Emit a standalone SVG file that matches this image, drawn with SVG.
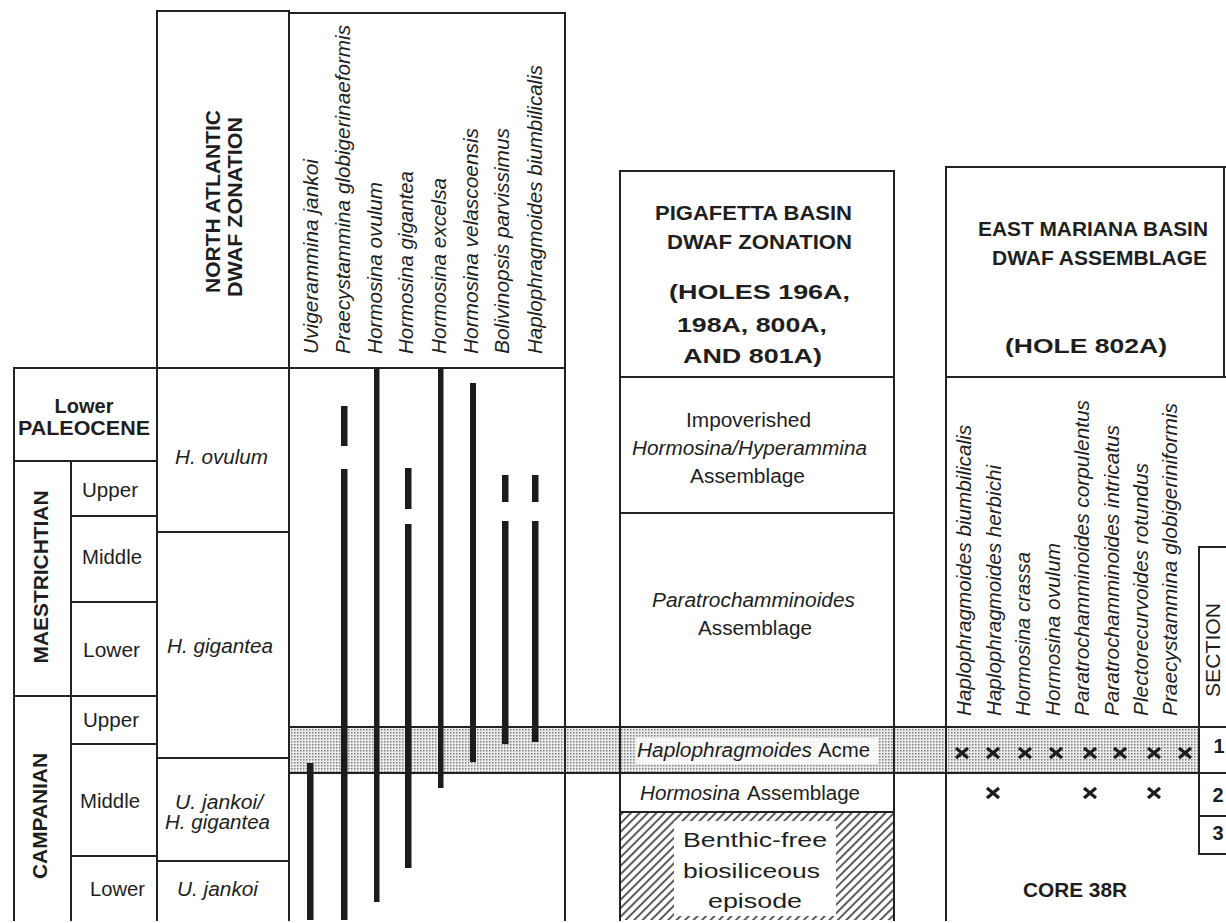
<svg xmlns="http://www.w3.org/2000/svg" width="1226" height="923" viewBox="0 0 1226 923">
<defs>
<style>
.ln{stroke:#222;stroke-width:2;fill:none;stroke-linecap:square}
.t{font-family:"Liberation Sans",Arial,sans-serif;fill:#1e1e1e;font-size:20px}
.b{font-weight:bold}
.i{font-style:italic}
.bar{fill:#1c1c1c}
.x{stroke:#1c1c1c;stroke-width:3.2;fill:none}
</style>
<pattern id="dots" width="3" height="3" patternUnits="userSpaceOnUse">
<rect width="3" height="3" fill="#ebebeb"/>
<rect width="1.5" height="1.5" fill="#808080"/>
</pattern>
<pattern id="hatch" width="6" height="6" patternUnits="userSpaceOnUse" patternTransform="rotate(45)">
<rect width="6" height="6" fill="#fff"/>
<line x1="1" y1="0" x2="1" y2="6" stroke="#333" stroke-width="1.6"/>
</pattern>
<path id="xm" d="M-6,-5 L6,5 M-6,5 L6,-5"/>
</defs>
<rect width="1226" height="923" fill="#fff"/>

<!-- shaded acme band -->
<g id="acme-band">
<rect x="289" y="727" width="910" height="46" fill="url(#dots)"/>
<rect x="636" y="738" width="242" height="26" fill="#fff" opacity="0.85"/>
</g>

<!-- hatched benthic-free -->
<g id="benthic-free">
<rect x="620" y="812" width="274" height="108" fill="url(#hatch)"/>
<rect x="674" y="821" width="162" height="95" fill="#fff"/>
<text class="t" x="683" y="847" font-size="25" textLength="144" lengthAdjust="spacingAndGlyphs">Benthic-free</text>
<text class="t" x="683" y="878" font-size="25" textLength="137" lengthAdjust="spacingAndGlyphs">biosiliceous</text>
<text class="t" x="708" y="908" font-size="25" textLength="94" lengthAdjust="spacingAndGlyphs">episode</text>
</g>

<!-- table lines -->
<g id="connectors">
<path class="ln" d="M157,11 H289 M289,13 H565 M14,368 H565 M14,368 V920 M71,461 V920 M157,11 V920 M289,11 V920 M565,13 V920"/>
<path class="ln" d="M14,461 H157 M71,516 H157 M71,602 H157 M14,696 H157 M71,744 H157 M71,856 H157"/>
<path class="ln" d="M157,532 H289 M157,758 H289 M157,861 H289"/>
<path class="ln" d="M289,727 H1226 M289,773 H1226"/>
<path class="ln" d="M620,171 H894 M620,171 V920 M894,171 V920 M620,377 H894 M620,513 H894 M620,812 H894"/>
<path class="ln" d="M946,167 H1226 M946,167 V920 M946,377 H1226 M1224,167 V377"/>
<path class="ln" d="M1199,547 V854 M1199,547 H1226 M1199,816 H1226 M1199,854 H1226"/>
</g>

<!-- range bars -->
<g id="range-bars">
<rect class="bar" x="307" y="763" width="6.5" height="157"/>
<rect class="bar" x="341" y="406" width="6.5" height="40"/>
<rect class="bar" x="341" y="469" width="6.5" height="451"/>
<rect class="bar" x="374" y="368" width="5.5" height="534"/>
<rect class="bar" x="405" y="468" width="6.5" height="41"/>
<rect class="bar" x="405" y="524" width="6.5" height="344"/>
<rect class="bar" x="438" y="368" width="5.5" height="420"/>
<rect class="bar" x="470" y="383" width="6" height="379"/>
<rect class="bar" x="502" y="475" width="6.5" height="27"/>
<rect class="bar" x="502" y="521" width="6.5" height="223"/>
<rect class="bar" x="532" y="475" width="6.5" height="27"/>
<rect class="bar" x="532" y="521" width="6.5" height="221"/>
</g>

<!-- chronostratigraphy -->
<g id="lower-paleocene">
<text class="t b" x="84" y="413" text-anchor="middle">Lower</text>
<text class="t b" x="18" y="435" textLength="132" lengthAdjust="spacingAndGlyphs">PALEOCENE</text>
</g>
<g id="maestrichtian">
<text class="t b" transform="translate(48,577) rotate(-90)" text-anchor="middle" textLength="173" lengthAdjust="spacingAndGlyphs">MAESTRICHTIAN</text>
<text class="t" x="82" y="497" textLength="56" lengthAdjust="spacingAndGlyphs">Upper</text>
<text class="t" x="82" y="564" textLength="60" lengthAdjust="spacingAndGlyphs">Middle</text>
<text class="t" x="83" y="657" textLength="57" lengthAdjust="spacingAndGlyphs">Lower</text>
</g>
<g id="campanian">
<text class="t b" transform="translate(47,816) rotate(-90)" text-anchor="middle" textLength="126" lengthAdjust="spacingAndGlyphs">CAMPANIAN</text>
<text class="t" x="83" y="727" textLength="56" lengthAdjust="spacingAndGlyphs">Upper</text>
<text class="t" x="80" y="808" textLength="60" lengthAdjust="spacingAndGlyphs">Middle</text>
<text class="t" x="90" y="896" textLength="55" lengthAdjust="spacingAndGlyphs">Lower</text>
</g>

<!-- North Atlantic zonation -->
<g id="north-atlantic">
<text class="t b" transform="translate(220,293) rotate(-90)" font-size="22" textLength="183" lengthAdjust="spacingAndGlyphs">NORTH ATLANTIC</text>
<text class="t b" transform="translate(242,297) rotate(-90)" font-size="22" textLength="180" lengthAdjust="spacingAndGlyphs">DWAF ZONATION</text>
<text class="t i" x="175" y="464" textLength="93" lengthAdjust="spacingAndGlyphs">H. ovulum</text>
<text class="t i" x="167" y="653" textLength="106" lengthAdjust="spacingAndGlyphs">H. gigantea</text>
<text class="t i" x="175" y="809" font-size="18" textLength="88" lengthAdjust="spacingAndGlyphs">U. jankoi/</text>
<text class="t i" x="165" y="829" font-size="18" textLength="105" lengthAdjust="spacingAndGlyphs">H. gigantea</text>
<text class="t i" x="177" y="896" textLength="81" lengthAdjust="spacingAndGlyphs">U. jankoi</text>
</g>

<!-- species names -->
<g id="species-left">
<text class="t i" transform="translate(318,354) rotate(-90)" textLength="195" lengthAdjust="spacingAndGlyphs">Uvigerammina jankoi</text>
<text class="t i" transform="translate(350,354) rotate(-90)" textLength="329" lengthAdjust="spacingAndGlyphs">Praecystammina globigerinaeformis</text>
<text class="t i" transform="translate(382,354) rotate(-90)" textLength="172" lengthAdjust="spacingAndGlyphs">Hormosina ovulum</text>
<text class="t i" transform="translate(413,354) rotate(-90)" textLength="183" lengthAdjust="spacingAndGlyphs">Hormosina gigantea</text>
<text class="t i" transform="translate(446,354) rotate(-90)" textLength="176" lengthAdjust="spacingAndGlyphs">Hormosina excelsa</text>
<text class="t i" transform="translate(478,354) rotate(-90)" textLength="226" lengthAdjust="spacingAndGlyphs">Hormosina velascoensis</text>
<text class="t i" transform="translate(509,354) rotate(-90)" textLength="226" lengthAdjust="spacingAndGlyphs">Bolivinopsis parvissimus</text>
<text class="t i" transform="translate(542,354) rotate(-90)" textLength="289" lengthAdjust="spacingAndGlyphs">Haplophragmoides biumbilicalis</text>
</g>

<!-- Pigafetta Basin -->
<g id="pigafetta">
<text class="t b" x="655" y="220" font-size="18" textLength="197" lengthAdjust="spacingAndGlyphs">PIGAFETTA  BASIN</text>
<text class="t b" x="667" y="249" font-size="18" textLength="185" lengthAdjust="spacingAndGlyphs">DWAF  ZONATION</text>
<text class="t b" x="669" y="299" font-size="22" textLength="181" lengthAdjust="spacingAndGlyphs">(HOLES 196A,</text>
<text class="t b" x="677" y="332" font-size="22" textLength="150" lengthAdjust="spacingAndGlyphs">198A, 800A,</text>
<text class="t b" x="683" y="363" font-size="22" textLength="139" lengthAdjust="spacingAndGlyphs">AND 801A)</text>
<text class="t" x="686" y="427" font-size="18" textLength="125" lengthAdjust="spacingAndGlyphs">Impoverished</text>
<text class="t i" x="632" y="455" font-size="18" textLength="235" lengthAdjust="spacingAndGlyphs">Hormosina/Hyperammina</text>
<text class="t" x="690" y="483" font-size="18" textLength="115" lengthAdjust="spacingAndGlyphs">Assemblage</text>
<text class="t i" x="652" y="607" font-size="18" textLength="203" lengthAdjust="spacingAndGlyphs">Paratrochamminoides</text>
<text class="t" x="698" y="635" font-size="18" textLength="114" lengthAdjust="spacingAndGlyphs">Assemblage</text>
<text class="t i" x="637" y="757" font-size="18" textLength="175" lengthAdjust="spacingAndGlyphs">Haplophragmoides</text>
<text class="t" x="818" y="757" font-size="18" textLength="52" lengthAdjust="spacingAndGlyphs">Acme</text>
<text class="t i" x="640" y="800" font-size="18" textLength="100" lengthAdjust="spacingAndGlyphs">Hormosina</text>
<text class="t" x="747" y="800" font-size="18" textLength="113" lengthAdjust="spacingAndGlyphs">Assemblage</text>
</g>

<!-- East Mariana Basin -->
<g id="east-mariana">
<text class="t b" x="978" y="236" font-size="18" textLength="230" lengthAdjust="spacingAndGlyphs">EAST MARIANA BASIN</text>
<text class="t b" x="992" y="265" font-size="18" textLength="215" lengthAdjust="spacingAndGlyphs">DWAF ASSEMBLAGE</text>
<text class="t b" x="1005" y="353" font-size="22" textLength="162" lengthAdjust="spacingAndGlyphs">(HOLE 802A)</text>
<text class="t b" x="1023" y="897" font-size="18" textLength="104" lengthAdjust="spacingAndGlyphs">CORE 38R</text>
</g>
<g id="species-right">
<text class="t i" transform="translate(971,716) rotate(-90)" textLength="291" lengthAdjust="spacingAndGlyphs">Haplophragmoides biumbilicalis</text>
<text class="t i" transform="translate(1001,716) rotate(-90)" textLength="251" lengthAdjust="spacingAndGlyphs">Haplophragmoides herbichi</text>
<text class="t i" transform="translate(1030,716) rotate(-90)" textLength="164" lengthAdjust="spacingAndGlyphs">Hormosina crassa</text>
<text class="t i" transform="translate(1060,716) rotate(-90)" textLength="173" lengthAdjust="spacingAndGlyphs">Hormosina ovulum</text>
<text class="t i" transform="translate(1089,716) rotate(-90)" textLength="316" lengthAdjust="spacingAndGlyphs">Paratrochamminoides corpulentus</text>
<text class="t i" transform="translate(1119,716) rotate(-90)" textLength="291" lengthAdjust="spacingAndGlyphs">Paratrochamminoides intricatus</text>
<text class="t i" transform="translate(1148,716) rotate(-90)" textLength="253" lengthAdjust="spacingAndGlyphs">Plectorecurvoides rotundus</text>
<text class="t i" transform="translate(1177,716) rotate(-90)" textLength="313" lengthAdjust="spacingAndGlyphs">Praecystammina globigeriniformis</text>
</g>
<g id="occurrences">
<use href="#xm" class="x" x="962" y="753"/>
<use href="#xm" class="x" x="993" y="753"/>
<use href="#xm" class="x" x="1025" y="753"/>
<use href="#xm" class="x" x="1056" y="753"/>
<use href="#xm" class="x" x="1090" y="753"/>
<use href="#xm" class="x" x="1120" y="753"/>
<use href="#xm" class="x" x="1154" y="753"/>
<use href="#xm" class="x" x="1185" y="753"/>
<use href="#xm" class="x" x="993" y="793"/>
<use href="#xm" class="x" x="1090" y="793"/>
<use href="#xm" class="x" x="1154" y="793"/>
</g>
<g id="section">
<text class="t" transform="translate(1220,697) rotate(-90)" font-size="17" textLength="94" lengthAdjust="spacingAndGlyphs">SECTION</text>
<text class="t b" x="1219" y="753" font-size="15" text-anchor="middle">1</text>
<text class="t b" x="1218" y="802" font-size="15" text-anchor="middle">2</text>
<text class="t b" x="1218" y="840" font-size="15" text-anchor="middle">3</text>
</g>
</svg>
